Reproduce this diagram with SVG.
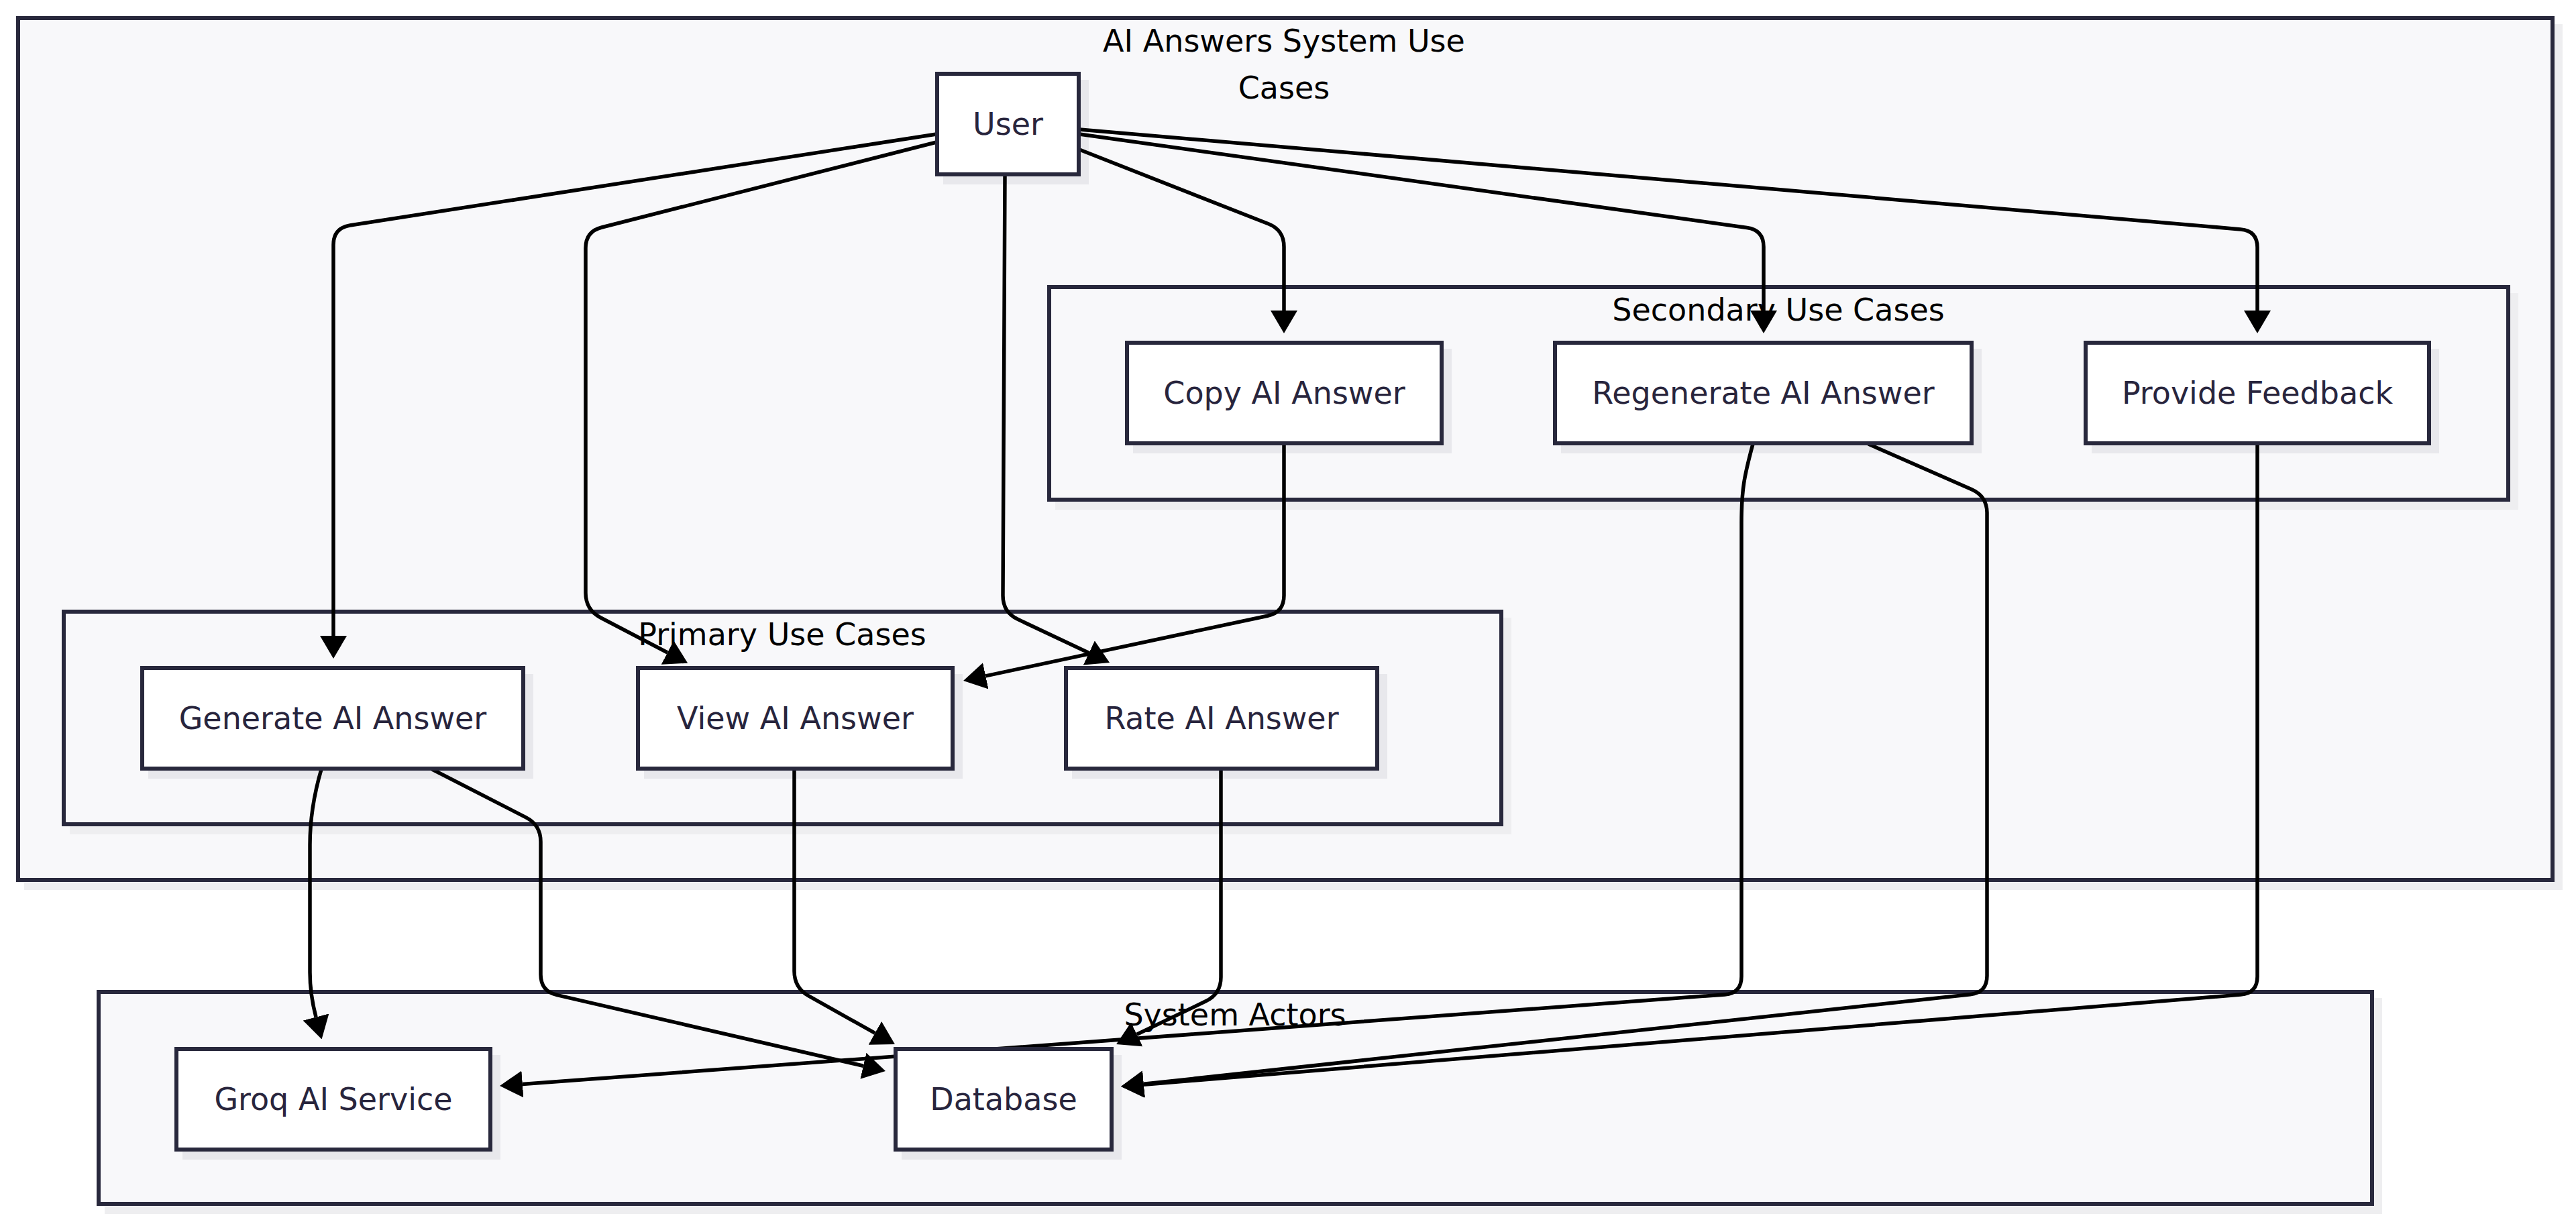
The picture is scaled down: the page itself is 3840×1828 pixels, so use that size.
<svg xmlns="http://www.w3.org/2000/svg" width="3840" height="1828" viewBox="0 0 3840 1828">
  <style>
    .cluster-shadow { fill: #eeeef0; stroke: #eeeef0; stroke-width: 6; }
    .cluster { fill: #f8f8fa; stroke: #28283c; stroke-width: 6; }
    .cluster-label { font-family: "DejaVu Sans", "Liberation Sans", sans-serif; font-size: 46px; fill: #000000; text-anchor: middle; }
    .node-shadow { fill: #e8e8ec; stroke: #e8e8ec; stroke-width: 6; }
    .node rect.box { fill: #ffffff; stroke: #28283c; stroke-width: 6; }
    .node text { font-family: "DejaVu Sans", "Liberation Sans", sans-serif; font-size: 46px; fill: #28253d; text-anchor: middle; }
    .edge { fill: none; stroke: #000000; stroke-width: 5.5; stroke-linejoin: round; marker-end: url(#arrow); }
  </style>
  <defs>
    <marker id="arrow" viewBox="0 0 34 40" refX="0" refY="20" markerWidth="34" markerHeight="40" markerUnits="userSpaceOnUse" orient="auto">
      <path d="M0,0 L34,20 L0,40 z" fill="#000000"/>
    </marker>
  </defs>

  <rect width="3840" height="1828" fill="#ffffff"/>

  <!-- subgraph frames -->
  <g id="clusters">
    <g id="cluster-system">
      <rect class="cluster-shadow" x="39" y="39" width="3778" height="1285"/>
      <rect class="cluster" x="27" y="27" width="3778" height="1285"/>
      <text class="cluster-label" x="1914" y="77">AI Answers System Use</text>
      <text class="cluster-label" x="1914" y="147">Cases</text>
    </g>
    <g id="cluster-secondary">
      <rect class="cluster-shadow" x="1576" y="440" width="2175" height="317"/>
      <rect class="cluster" x="1564" y="428" width="2175" height="317"/>
      <text class="cluster-label" x="2651" y="478">Secondary Use Cases</text>
    </g>
    <g id="cluster-primary">
      <rect class="cluster-shadow" x="107" y="924" width="2143" height="317"/>
      <rect class="cluster" x="95" y="912" width="2143" height="317"/>
      <text class="cluster-label" x="1166" y="962">Primary Use Cases</text>
    </g>
    <g id="cluster-actors">
      <rect class="cluster-shadow" x="159" y="1491" width="3389" height="316"/>
      <rect class="cluster" x="147" y="1479" width="3389" height="316"/>
      <text class="cluster-label" x="1841" y="1529">System Actors</text>
    </g>
  </g>

  <!-- drop shadows of the nodes, kept under the connectors -->
  <g id="node-shadows">
    <rect class="node-shadow" x="1409" y="122" width="211" height="150"/>
    <rect class="node-shadow" x="1692" y="523" width="469" height="150"/>
    <rect class="node-shadow" x="2330" y="523" width="621" height="150"/>
    <rect class="node-shadow" x="3121" y="523" width="512" height="150"/>
    <rect class="node-shadow" x="224" y="1008" width="568" height="150"/>
    <rect class="node-shadow" x="963" y="1008" width="469" height="150"/>
    <rect class="node-shadow" x="1601" y="1008" width="464" height="150"/>
    <rect class="node-shadow" x="275" y="1576" width="468" height="150"/>
    <rect class="node-shadow" x="1347" y="1576" width="322" height="150"/>
  </g>

  <!-- connectors -->
  <g id="edges">
    <path id="e-user-generate" class="edge" d="M1396,200 L521.7,336 Q497,340 497,365 L497,948"/>
    <path id="e-user-view" class="edge" d="M1396,212 L897,339 Q873,345 873,370 L873,884 Q873,909 895,920.7 L995,973"/>
    <path id="e-user-rate" class="edge" d="M1498,262 L1495,888 Q1495,913 1517.6,923.6 L1623.3,973.5"/>
    <path id="e-user-copy" class="edge" d="M1609,223 L1890.8,333.8 Q1914,343 1914,368 L1914,463"/>
    <path id="e-user-regenerate" class="edge" d="M1609,200 L2604.2,339.5 Q2629,343 2629,368 L2629,463"/>
    <path id="e-user-feedback" class="edge" d="M1609,193 L3340.1,341.9 Q3365,344 3365,369 L3365,463"/>
    <path id="e-copy-view" class="edge" d="M1914,662 L1914,888 Q1914,913 1889.5,918.2 L1469.3,1007.9"/>
    <path id="e-generate-groq" class="edge" d="M479,1147 Q462,1205 462,1260 L462,1450 Q462,1482 471,1516.5"/>
    <path id="e-generate-db" class="edge" d="M644,1147 L783.7,1218.6 Q806,1230 806,1255 L806,1453 Q806,1478 830.4,1483.6 L1286.9,1589.3"/>
    <path id="e-view-db" class="edge" d="M1184,1147 L1184,1448 Q1184,1473 1205.8,1485.2 L1304.3,1540.4"/>
    <path id="e-rate-db" class="edge" d="M1820,1147 L1820,1457 Q1820,1482 1797.5,1492.8 L1694.7,1542.3"/>
    <path id="e-regenerate-groq" class="edge" d="M2613,662 C2600,710 2596,730 2596,780 L2596,1456 Q2596,1481 2571.1,1482.9 L778.9,1616.5"/>
    <path id="e-regenerate-db" class="edge" d="M2785,662 L2939.2,729.7 Q2962,740 2962,765 L2962,1455 Q2962,1480 2937.1,1482.7 L1704.8,1616.3"/>
    <path id="e-feedback-db" class="edge" d="M3365,662 L3365,1456 Q3365,1481 3340.1,1483.05 L1704.9,1617.2"/>
  </g>

  <!-- use cases and actors -->
  <g id="nodes">
    <g id="user" class="node">
      <rect class="box" x="1397" y="110" width="211" height="150"/>
      <text x="1502.5" y="201">User</text>
    </g>
    <g id="copy-answer" class="node">
      <rect class="box" x="1680" y="511" width="469" height="150"/>
      <text x="1914.5" y="602">Copy AI Answer</text>
    </g>
    <g id="regenerate-answer" class="node">
      <rect class="box" x="2318" y="511" width="621" height="150"/>
      <text x="2628.5" y="602">Regenerate AI Answer</text>
    </g>
    <g id="provide-feedback" class="node">
      <rect class="box" x="3109" y="511" width="512" height="150"/>
      <text x="3365" y="602">Provide Feedback</text>
    </g>
    <g id="generate-answer" class="node">
      <rect class="box" x="212" y="996" width="568" height="150"/>
      <text x="496" y="1087">Generate AI Answer</text>
    </g>
    <g id="view-answer" class="node">
      <rect class="box" x="951" y="996" width="469" height="150"/>
      <text x="1185.5" y="1087">View AI Answer</text>
    </g>
    <g id="rate-answer" class="node">
      <rect class="box" x="1589" y="996" width="464" height="150"/>
      <text x="1821" y="1087">Rate AI Answer</text>
    </g>
    <g id="groq-service" class="node">
      <rect class="box" x="263" y="1564" width="468" height="150"/>
      <text x="497" y="1655">Groq AI Service</text>
    </g>
    <g id="database" class="node">
      <rect class="box" x="1335" y="1564" width="322" height="150"/>
      <text x="1496" y="1655">Database</text>
    </g>
  </g>
</svg>
